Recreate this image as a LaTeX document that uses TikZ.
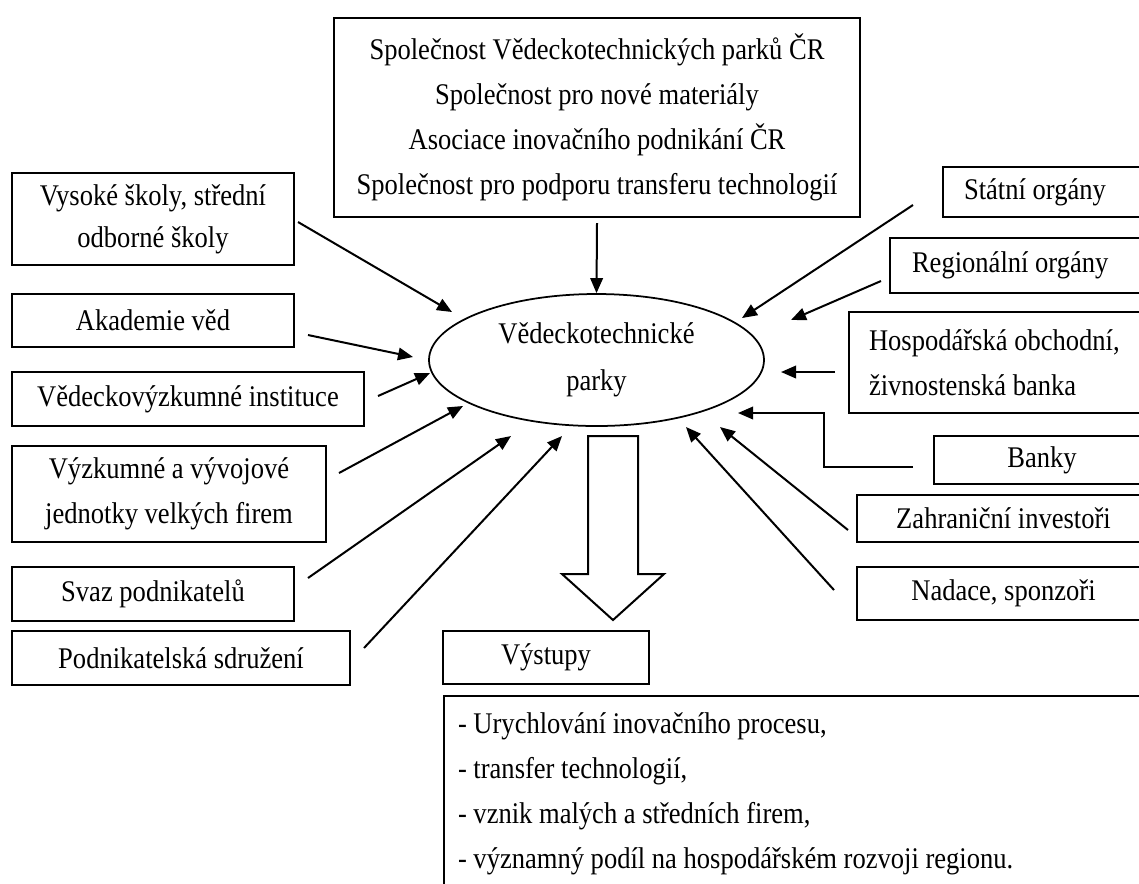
\documentclass[tikz,border=0pt]{standalone}
\usepackage{fontspec}
\setmainfont{Liberation Serif}[FakeStretch=0.885]
\usetikzlibrary{arrows.meta,shapes.geometric}

\begin{document}
\begin{tikzpicture}[x=0.4pt,y=-0.4pt,
    box/.style={draw, line width=0.8pt, inner sep=0pt, align=center,
      font=\fontsize{12}{18}\selectfont},
    park/.style={draw, ellipse, line width=0.7pt, inner sep=0pt, align=center,
      font=\fontsize{12}{19}\selectfont},
    arr/.style={-{Triangle[length=6pt,width=5pt]}, line width=0.8pt}
  ]
  \useasboundingbox (0,0) rectangle (1139,883);
  \clip (0,0) rectangle (1139,883);

  % middle
  \node[park, minimum width=134pt, minimum height=52.8pt] (vpark) at (596.5,360) {Vědeckotechnické\\parky};
  \node[box, minimum width=210.4pt, minimum height=79.6pt] (spolecnosti) at (597,117.5)
    {Společnost Vědeckotechnických parků ČR\\Společnost pro nové materiály\\Asociace inovačního podnikání ČR\\Společnost pro podporu transferu technologií};

  % left side
  \node[box, minimum width=112.8pt, minimum height=36.8pt, font=\fontsize{12}{16.8}\selectfont] (vysoke) at (153,219) {Vysoké školy, střední\\odborné školy};
  \node[box, minimum width=112.8pt, minimum height=21.2pt] (akademie) at (153,320.5) {Akademie věd};
  \node[box, minimum width=140.8pt, minimum height=21.6pt] (instituce) at (188,399) {Vědeckovýzkumné instituce};
  \node[box, minimum width=125.6pt, minimum height=38.4pt] (jednotky) at (169,494) {Výzkumné a vývojové\\jednotky velkých firem};
  \node[box, minimum width=112.8pt, minimum height=21.6pt] (svaz) at (153,594) {Svaz podnikatelů};
  \node[box, minimum width=135.2pt, minimum height=21.6pt] (sdruzeni) at (181,658) {Podnikatelská sdružení};

  % right side
  \node[box, anchor=west, align=flush left, inner xsep=8.4pt, text width=100pt, minimum height=20pt] (statni) at (942,192) {Státní orgány};
  \node[box, anchor=west, align=flush left, inner xsep=8.8pt, text width=100pt, minimum height=22pt] (regionalni) at (889,265.5) {Regionální orgány};
  \node[box, anchor=west, align=flush left, inner xsep=8pt, text width=120pt, minimum height=40.4pt] (hospodarska) at (848,362.5) {Hospodářská obchodní,\\živnostenská banka};
  \node[box, anchor=west, minimum width=86.4pt, minimum height=19.2pt] (banky) at (933,460) {Banky};
  \node[box, anchor=west, minimum width=117.2pt, minimum height=18.8pt] (investori) at (856,518.5) {Zahraniční investoři};
  \node[box, anchor=west, minimum width=117.2pt, minimum height=21.2pt] (nadace) at (856,593.5) {Nadace, sponzoři};

  % outputs
  \node[box, minimum width=82.4pt, minimum height=21.2pt] (vystupy) at (546,657.5) {Výstupy};
  \node[box, anchor=north west, align=flush left, inner xsep=5.6pt, inner ysep=6.5pt, text width=300pt] (prinosy) at (443,695)
    {- Urychlování inovačního procesu,\\- transfer technologií,\\- vznik malých a středních firem,\\- významný podíl na hospodářském rozvoji regionu.};
  \draw[line width=0.8pt, fill=white] (588,436) -- (638,436) -- (638,574) -- (664,574) -- (613,620) -- (562,574) -- (588,574) -- cycle;

  % inputs
  \draw[arr] ([yshift=-2pt]spolecnosti.south) -- (vpark.north);
  \draw[arr] ([shift={(3,3)}]vysoke.east) -- ([shift={(-144.5,-48)}]vpark.center);
  \draw[arr] ([shift={(13,14.5)}]akademie.east) -- ([shift={(-183.5,-3)}]vpark.center);
  \draw[arr] ([shift={(13,-3)}]instituce.east) -- ([shift={(-166.5,13)}]vpark.center);
  \draw[arr] ([shift={(12,-21)}]jednotky.east) -- ([shift={(-133.5,46)}]vpark.center);
  \draw[arr] ([shift={(13,-16)}]svaz.east) -- ([shift={(-85.5,76)}]vpark.center);
  \draw[arr] ([shift={(13,-10)}]sdruzeni.east) -- ([shift={(-34.5,76)}]vpark.center);
  \draw[arr] ([shift={(-29,13)}]statni.west) -- ([shift={(145.5,-42)}]vpark.center);
  \draw[arr] ([shift={(-8,15.5)}]regionalni.west) -- ([shift={(194.5,-40)}]vpark.center);
  \draw[arr] ([shift={(-13,9.5)}]hospodarska.west) -- ([shift={(184.5,12)}]vpark.center);
  \draw[arr] ([shift={(-20,7)}]banky.west) -- ++(-89,0) |- ([shift={(141.5,53)}]vpark.center);
  \draw[arr] ([shift={(-8,11.5)}]investori.west) -- ([shift={(123.5,67)}]vpark.center);
  \draw[arr] ([shift={(-22,-3.5)}]nadace.west) -- ([shift={(89.5,67)}]vpark.center);
\end{tikzpicture}
\end{document}
